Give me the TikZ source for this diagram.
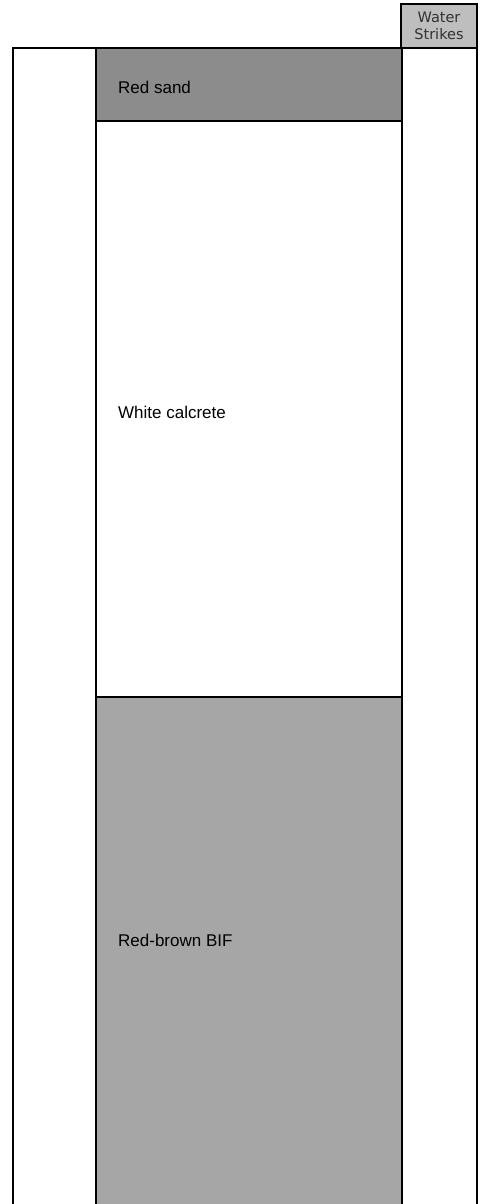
\documentclass[tikz,border=0pt]{standalone}
\usepackage{fontspec}
\setmainfont{Liberation Sans}
\newfontfamily\headfont{DejaVu Sans}
\usepackage{tikz}
\usetikzlibrary{positioning}
\definecolor{sandgray}{RGB}{140, 140, 140}
\definecolor{bifgray}{RGB}{166, 166, 166}
\definecolor{headgray}{RGB}{190, 190, 190}
\definecolor{headtext}{RGB}{50, 50, 50}

\tikzset{
    column/.style={draw=black, line width=2pt},
    layertext/.style={anchor=west, font=\fontsize{17}{19}\selectfont, inner sep=0pt}
}

\begin{document}
\begin{tikzpicture}[x=1pt, y=-1pt]
    \useasboundingbox (0,0) rectangle (479,1204);
    \clip (0,0) rectangle (479,1204);

    % Layers
    \fill[sandgray] (96,48) rectangle (402,121);
    \fill[bifgray] (96,697) rectangle (402,1214);
    \foreach \top/\bot in {48/121, 121/697, 697/1214} {
        \draw[column] (96,\top) rectangle (402,\bot);
    }

    % Side columns
    \draw[column] (13,48) rectangle (96,1214);
    \draw[column] (402,48) rectangle (477,1214);

    % Header
    \filldraw[headgray, draw=black, line width=1.5pt] (401,4) rectangle (477,48);
    \node[font=\headfont\fontsize{14.5}{17}\selectfont, text=headtext, align=center] (strikes) at (439,26) {Water\\Strikes};

    % Labels
    \node[layertext] (sand) at (118,87) {Red sand};
    \node[layertext] (calcrete) at (118,412) {White calcrete};
    \node[layertext] (bif) at (118,940) {Red-brown BIF};
\end{tikzpicture}
\end{document}
